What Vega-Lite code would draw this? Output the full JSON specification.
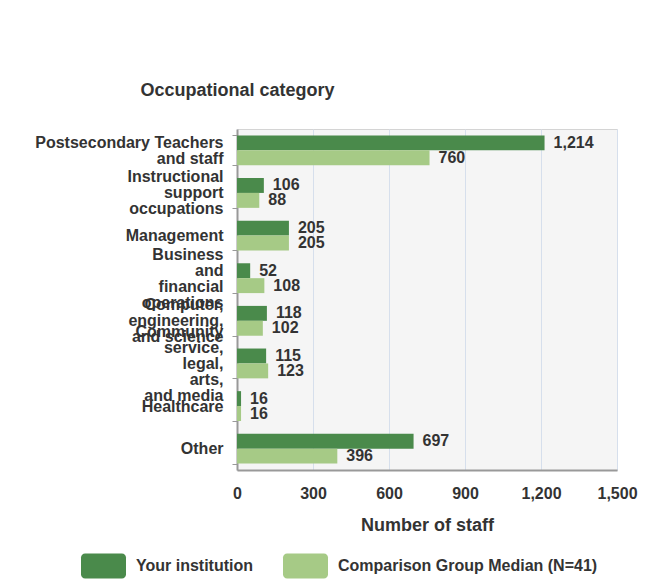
{
  "$schema": "https://vega.github.io/schema/vega-lite/v6.json",
  "width": 380,
  "height": 341,
  "autosize": {"type": "none"},
  "padding": {"left": 237, "top": 129, "right": 48, "bottom": 113},
  "background": "white",
  "config": {
    "font": "Liberation Sans",
    "view": {"fill": "#f5f5f5", "stroke": "#d4d4d4"}
  },
  "data": {
    "values": [
      {"category": "Postsecondary Teachers and staff", "series": "Your institution", "value": 1214},
      {"category": "Postsecondary Teachers and staff", "series": "Comparison Group Median (N=41)", "value": 760},
      {"category": "Instructional support occupations", "series": "Your institution", "value": 106},
      {"category": "Instructional support occupations", "series": "Comparison Group Median (N=41)", "value": 88},
      {"category": "Management", "series": "Your institution", "value": 205},
      {"category": "Management", "series": "Comparison Group Median (N=41)", "value": 205},
      {"category": "Business and financial operations", "series": "Your institution", "value": 52},
      {"category": "Business and financial operations", "series": "Comparison Group Median (N=41)", "value": 108},
      {"category": "Computer, engineering, and science", "series": "Your institution", "value": 118},
      {"category": "Computer, engineering, and science", "series": "Comparison Group Median (N=41)", "value": 102},
      {"category": "Community service, legal, arts, and media", "series": "Your institution", "value": 115},
      {"category": "Community service, legal, arts, and media", "series": "Comparison Group Median (N=41)", "value": 123},
      {"category": "Healthcare", "series": "Your institution", "value": 16},
      {"category": "Healthcare", "series": "Comparison Group Median (N=41)", "value": 16},
      {"category": "Other", "series": "Your institution", "value": 697},
      {"category": "Other", "series": "Comparison Group Median (N=41)", "value": 396}
    ]
  },
  "encoding": {
    "y": {
      "field": "category",
      "type": "nominal",
      "sort": ["Postsecondary Teachers and staff", "Instructional support occupations", "Management", "Business and financial operations", "Computer, engineering, and science", "Community service, legal, arts, and media", "Healthcare", "Other"],
      "scale": {"paddingInner": 0.3, "paddingOuter": 0.15},
      "axis": {
        "title": "Occupational category",
        "titleAngle": 0,
        "titleAlign": "left",
        "titleBaseline": "alphabetic",
        "titleX": -97,
        "titleY": -34,
        "titleFontSize": 18,
        "titleFontWeight": "bold",
        "titleColor": "#333333",
        "labelFontSize": 16,
        "labelFontWeight": "bold",
        "labelColor": "#333333",
        "labelLineHeight": 16,
        "labelLimit": 400,
        "labelPadding": 9,
        "labelExpr": "datum.value == 'Postsecondary Teachers and staff' ? ['Postsecondary Teachers', 'and staff'] : datum.value == 'Instructional support occupations' ? ['Instructional', 'support', 'occupations'] : datum.value == 'Business and financial operations' ? ['Business', 'and', 'financial', 'operations'] : datum.value == 'Computer, engineering, and science' ? ['Computer,', 'engineering,', 'and science'] : datum.value == 'Community service, legal, arts, and media' ? ['Community', 'service,', 'legal,', 'arts,', 'and media'] : datum.label",
        "labelOffset": {
          "condition": [
            {"test": "datum.value == 'Postsecondary Teachers and staff'", "value": -8},
            {"test": "datum.value == 'Instructional support occupations'", "value": -16},
            {"test": "datum.value == 'Business and financial operations'", "value": -24},
            {"test": "datum.value == 'Computer, engineering, and science'", "value": -16},
            {"test": "datum.value == 'Community service, legal, arts, and media'", "value": -32}
          ],
          "value": 0
        },
        "tickBand": "extent",
        "tickSize": 5,
        "tickColor": "#999999",
        "domainColor": "#999999",
        "domainWidth": 2,
        "grid": false
      }
    },
    "yOffset": {"field": "series", "sort": ["Your institution", "Comparison Group Median (N=41)"]},
    "x": {
      "field": "value",
      "type": "quantitative",
      "scale": {"domain": [0, 1500]},
      "axis": {
        "values": [0, 300, 600, 900, 1200, 1500],
        "format": ",d",
        "title": "Number of staff",
        "titleFontSize": 18,
        "titleFontWeight": "bold",
        "titleColor": "#333333",
        "titlePadding": 15,
        "labelFontSize": 16,
        "labelFontWeight": "bold",
        "labelColor": "#333333",
        "labelPadding": 15,
        "labelFlush": false,
        "ticks": false,
        "gridColor": "#d6dfec",
        "domainColor": "#999999",
        "domainWidth": 2
      }
    }
  },
  "layer": [
    {
      "mark": {"type": "bar"},
      "encoding": {
        "color": {
          "field": "series",
          "type": "nominal",
          "scale": {"domain": ["Your institution", "Comparison Group Median (N=41)"], "range": ["#4a8a4b", "#a6ca86"]},
          "legend": {
            "title": null,
            "orient": "none",
            "direction": "horizontal",
            "legendX": -156,
            "legendY": 414,
            "symbolType": "M-0.82,-0.556H0.82A0.18,0.18 0 0 1 1,-0.376V0.376A0.18,0.18 0 0 1 0.82,0.556H-0.82A0.18,0.18 0 0 1 -1,0.376V-0.376A0.18,0.18 0 0 1 -0.82,-0.556Z",
            "symbolSize": 2025,
            "symbolOpacity": 1,
            "symbolStrokeWidth": 0,
            "labelFontSize": 16,
            "labelFontWeight": "bold",
            "labelColor": "#333333",
            "labelOffset": 10,
            "columnPadding": 29,
            "labelLimit": 400
          }
        }
      }
    },
    {
      "mark": {"type": "text", "align": "left", "baseline": "middle", "dx": 9, "fontSize": 16, "fontWeight": "bold", "color": "#333333"},
      "encoding": {
        "text": {"field": "value", "type": "quantitative", "format": ","}
      }
    }
  ]
}
